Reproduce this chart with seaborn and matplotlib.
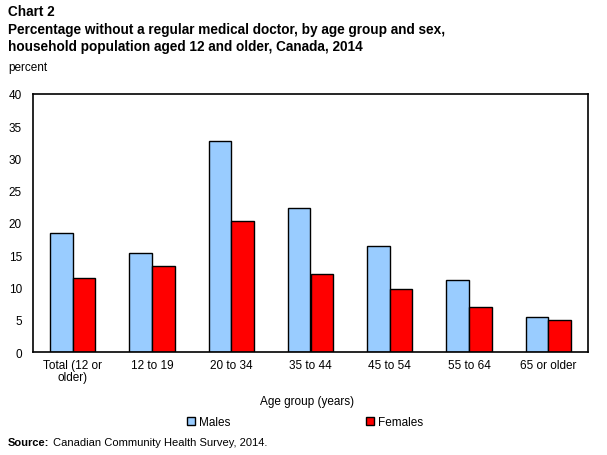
import matplotlib
matplotlib.use("Agg")
import matplotlib.pyplot as plt
import seaborn as sns
import pandas as pd
import numpy as np
from matplotlib.patches import Patch

categories = ["Total (12 or\nolder)", "12 to 19", "20 to 34", "35 to 44", "45 to 54", "55 to 64", "65 or older"]
males = [18.4, 15.3, 32.7, 22.3, 16.4, 11.2, 5.4]
females = [11.4, 13.3, 20.3, 12.1, 9.8, 7.0, 5.0]
series = ["Males", "Females"]
colors = ["#99CCFF", "#FF0000"]
yticks = [0, 5, 10, 15, 20, 25, 30, 35, 40]

df = pd.DataFrame({
    "group": categories * 2,
    "sex": [series[0]] * len(categories) + [series[1]] * len(categories),
    "value": males + females,
})

sns.set_theme(style="white")
plt.rcParams["font.family"] = ["Liberation Sans", "DejaVu Sans"]
plt.rcParams["text.color"] = "black"
plt.rcParams["xtick.color"] = "black"
plt.rcParams["ytick.color"] = "black"

fig = plt.figure(figsize=(6.07, 4.56), dpi=100)
ax = fig.add_axes([33/607, 1-353/456, 555/607, 258/456])

sns.barplot(data=df, x="group", y="value", hue="sex", order=categories,
            hue_order=series, palette=colors, width=0.57, saturation=1,
            edgecolor="black", linewidth=1.0, ax=ax, legend=False)

ax.set_ylim(0, 40)
ax.set_xlim(-0.5, len(categories) - 0.5)
ax.set_yticks(yticks)
ax.set_yticklabels([str(t) for t in yticks], fontsize=8.5, color="black")
ax.tick_params(axis="y", length=0, pad=8)
ax.set_xticks(range(len(categories)))
ax.set_xticklabels(categories, fontsize=8.5, color="black", linespacing=1.0)
ax.tick_params(axis="x", which="major", length=0, pad=5)
ax.set_xticks(np.arange(0.5, len(categories) - 0.5, 1), minor=True)
ax.tick_params(axis="x", which="minor", direction="in", length=3, width=1, color="black")
ax.set_xlabel("")
ax.set_ylabel("")
for s in ax.spines.values():
    s.set_color("black")
    s.set_linewidth(1.2)
    s.set_visible(True)

tkw = dict(fontsize=9.8, fontweight="bold", va="center", ha="left", color="black")
fig.text(8/607, 1-12/456, "Chart 2", **tkw)
fig.text(8/607, 1-30/456, "Percentage without a regular medical doctor, by age group and sex,", **tkw)
fig.text(8/607, 1-47/456, "household population aged 12 and older, Canada, 2014", **tkw)
fig.text(8/607, 1-68/456, "percent", fontsize=8.5, va="center", ha="left", color="black")
fig.text(307/607, 1-402/456, "Age group (years)", fontsize=8.5, va="center", ha="center", color="black")

handles = [Patch(facecolor=c, edgecolor="black", linewidth=1.0) for c in colors]
leg = fig.legend(handles, series, loc="center", bbox_to_anchor=(305/607, 1-423/456), ncol=2,
                 frameon=False, fontsize=8.5, handlelength=0.7, handleheight=0.7,
                 handletextpad=0.3, columnspacing=11.5)
for t in leg.get_texts():
    t.set_color("black")

src1 = fig.text(8/607, 1-443/456, "Source:", fontsize=8, fontweight="bold",
                va="center", ha="left", color="black")
fig.canvas.draw()
bb = src1.get_window_extent()
fig.text((bb.x1 + 4) / 607, 1-443/456, "Canadian Community Health Survey, 2014.",
         fontsize=8, va="center", ha="left", color="black")

fig.savefig("out.png", dpi=100)
